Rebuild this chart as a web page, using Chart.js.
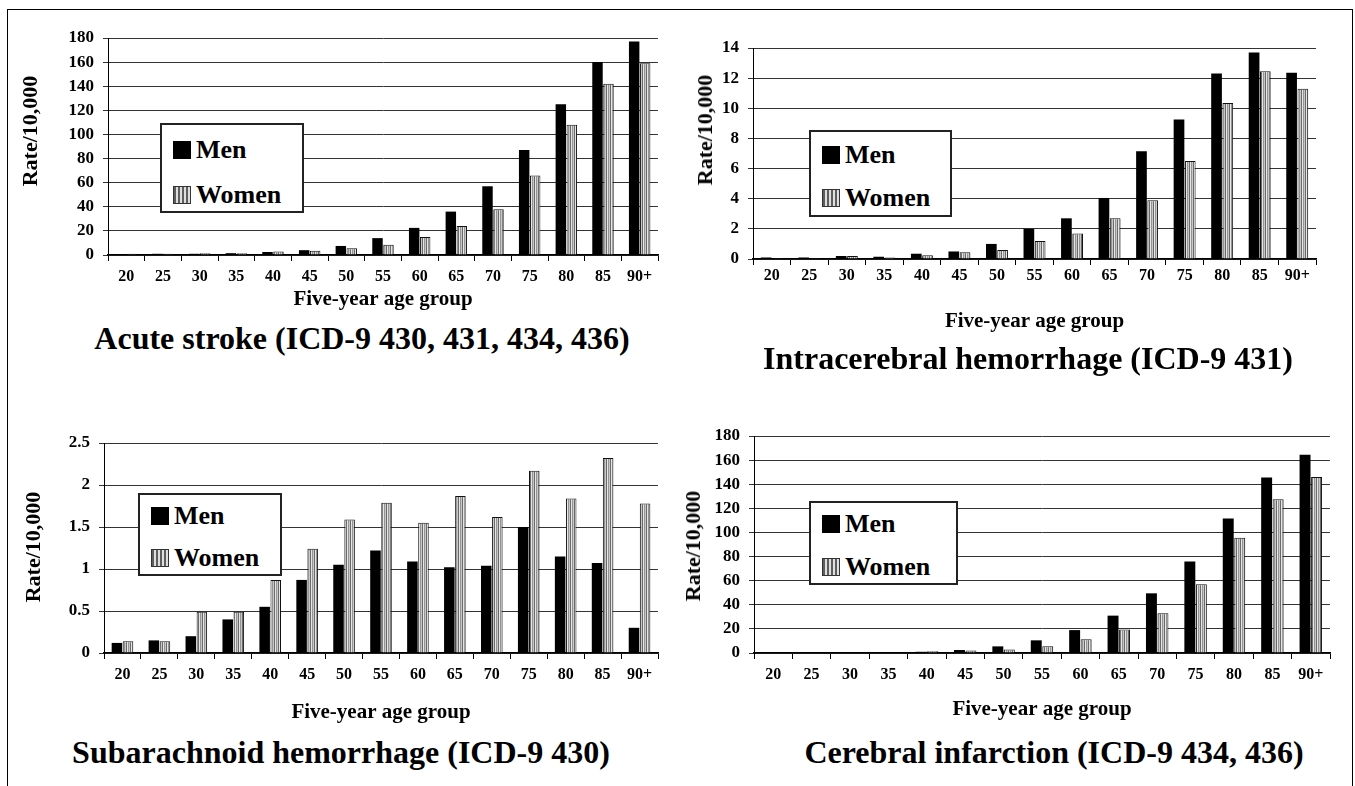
<!DOCTYPE html>
<html>
<head>
<meta charset="utf-8">
<script src="https://cdn.jsdelivr.net/npm/chart.js@4.4.1/dist/chart.umd.min.js"></script>
<style>
  body { margin: 0; background: #fff; font-family: "Liberation Serif", "Times New Roman", serif; }
  #page { position: relative; width: 1355px; height: 786px; overflow: hidden; }
  #frame { position: absolute; left: 7px; top: 9px; width: 1344px; height: 820px; border: 1.5px solid #000; border-bottom: none; }
  canvas { position: absolute; }
  .title { position: absolute; font-weight: bold; font-size: 32px; white-space: nowrap; transform: translate(-50%, -50%); }
  .ytitle { position: absolute; font-weight: bold; font-size: 22px; white-space: nowrap; transform: translate(-50%, -50%) rotate(-90deg); }
  .legend { position: absolute; background: #fff; border: 2px solid #222; box-sizing: border-box; }
  .legend .row { position: absolute; left: 11px; font-weight: bold; font-size: 26px; line-height: 28px; display: flex; align-items: center; transform: translateY(-50%); }
  .swatch { width: 18px; height: 18px; margin-right: 5px; box-sizing: border-box; }
  .sw-men { background: #000; }
  .sw-women { border: 1px solid #333; background: repeating-linear-gradient(90deg, #5e5e5e 0 2px, #dedede 2px 4px); }
</style>
</head>
<body>
<div id="page">
  <div id="frame"></div>
  <canvas id="c1"></canvas>
  <canvas id="c2"></canvas>
  <canvas id="c3"></canvas>
  <canvas id="c4"></canvas>
</div>
<script>
// age groups (x categories)
const ageGroups = ["20", "25", "30", "35", "40", "45", "50", "55", "60", "65", "70", "75", "80", "85", "90+"];
const seriesNames = ["Men", "Women"];

// Acute stroke (ICD-9 430, 431, 434, 436)
const strokeMen   = [0.5, 1, 1, 1.5, 2.5, 4, 7.5, 14, 22.5, 36, 57, 87, 125, 160, 177];
const strokeWomen = [1, 1, 1.5, 1.5, 3, 3.5, 5.5, 8.5, 15, 24, 38, 66, 108, 142, 159];

// Intracerebral hemorrhage (ICD-9 431)
const ichMen   = [0.1, 0.1, 0.2, 0.15, 0.35, 0.5, 1.0, 2.0, 2.7, 4.05, 7.15, 9.25, 12.3, 13.7, 12.35];
const ichWomen = [0.05, 0.05, 0.2, 0.1, 0.25, 0.45, 0.6, 1.2, 1.7, 2.7, 3.9, 6.5, 10.35, 12.45, 11.3];

// Subarachnoid hemorrhage (ICD-9 430)
const sahMen   = [0.12, 0.15, 0.2, 0.4, 0.55, 0.87, 1.05, 1.22, 1.09, 1.02, 1.04, 1.5, 1.15, 1.07, 0.3];
const sahWomen = [0.14, 0.14, 0.49, 0.49, 0.87, 1.24, 1.59, 1.79, 1.55, 1.87, 1.62, 2.17, 1.84, 2.32, 1.78];

// Cerebral infarction (ICD-9 434, 436)
const ciMen   = [0, 0, 0.5, 0.5, 1, 2.5, 5.5, 10.5, 19, 31, 49.5, 76, 111.5, 145.5, 164.5];
const ciWomen = [0, 0, 0.3, 0.5, 1.5, 2, 3, 5.5, 11.5, 19.5, 33, 57, 95.5, 127.5, 146];

// y axis ranges
const yMax  = [180, 14, 2.5, 180];
const yStep = [20, 2, 0.5, 20];

const titles = [
  "Acute stroke (ICD-9 430, 431, 434, 436)",
  "Intracerebral hemorrhage (ICD-9 431)",
  "Subarachnoid hemorrhage (ICD-9 430)",
  "Cerebral infarction (ICD-9 434, 436)"
];

// page layout (pixels)
const panels = [
  { id: "c1", box: [10, 15, 660, 300],  area: [108, 38, 658, 255],  labelY: 277, xTitleY: 300,
    yTitle: [30, 131],  title: [362, 338],  legend: [160, 123, 144, 90, 25, 70] },
  { id: "c2", box: [685, 15, 660, 330], area: [753, 48, 1316, 259], labelY: 276, xTitleY: 322,
    yTitle: [705, 130], title: [1028, 358], legend: [809, 130, 143, 87, 23, 66] },
  { id: "c3", box: [10, 415, 660, 315], area: [104, 443, 658, 653], labelY: 675, xTitleY: 713,
    yTitle: [33, 547],  title: [341, 752],  legend: [138, 493, 144, 83, 21, 63] },
  { id: "c4", box: [680, 415, 665, 315], area: [754, 436, 1330, 653], labelY: 675, xTitleY: 710,
    yTitle: [693, 546], title: [1054, 752], legend: [809, 501, 149, 84, 21, 64] }
];
const seriesData = [[strokeMen, strokeWomen], [ichMen, ichWomen], [sahMen, sahWomen], [ciMen, ciWomen]];

Chart.defaults.font.family = '"Liberation Serif", "Times New Roman", serif';
Chart.defaults.font.weight = 'bold';
Chart.defaults.color = '#000';

// vertical stripe fill for the women bars
function stripes(ctx) {
  const c = document.createElement('canvas');
  c.width = 4; c.height = 4;
  const g = c.getContext('2d');
  ['#6a6a6a', '#e6e6e6', '#949494', '#c8c8c8'].forEach((col, i) => {
    g.fillStyle = col;
    g.fillRect(i, 0, 1, 4);
  });
  return ctx.createPattern(c, 'repeat');
}

const page = document.getElementById('page');

panels.forEach((p, i) => {
  const [bx, by, bw, bh] = p.box;
  const cv = document.getElementById(p.id);
  cv.style.left = bx + 'px';
  cv.style.top = by + 'px';
  cv.width = bw; cv.height = bh;
  cv.style.width = bw + 'px'; cv.style.height = bh + 'px';
  const ctx = cv.getContext('2d');

  const padTop = p.area[1] - by;
  const padRight = bx + bw - p.area[2];
  const yWidth = p.area[0] - bx;
  const xHeight = by + bh - p.area[3];
  const tickFont = 16, xTitleFont = 21;
  const labelPad = Math.max(0, p.labelY - p.area[3] - 6 - tickFont * 1.2 / 2);
  const xTitlePad = Math.max(0, by + bh - p.xTitleY - xTitleFont * 1.2 / 2);

  new Chart(ctx, {
    type: 'bar',
    data: {
      labels: ageGroups,
      datasets: [
        { label: seriesNames[0], data: seriesData[i][0], backgroundColor: '#000', borderWidth: 0 },
        { label: seriesNames[1], data: seriesData[i][1], backgroundColor: stripes(ctx), borderColor: '#111', borderWidth: 1 }
      ]
    },
    options: {
      responsive: false,
      animation: false,
      layout: { padding: { top: padTop, right: padRight, left: 0, bottom: 0 } },
      datasets: { bar: { categoryPercentage: 0.6, barPercentage: 0.95 } },
      plugins: { legend: { display: false }, tooltip: { enabled: false } },
      scales: {
        x: {
          grid: { drawOnChartArea: false, tickLength: 6, color: '#000', offset: true },
          border: { color: '#000', width: 1.5 },
          ticks: { font: { size: tickFont }, padding: labelPad, maxRotation: 0, autoSkip: false },
          title: { display: true, text: 'Five-year age group', font: { size: xTitleFont }, padding: { top: 0, bottom: xTitlePad } },
          afterFit(sc) { sc.height = xHeight; }
        },
        y: {
          min: 0, max: yMax[i],
          grid: { color: '#333', tickLength: 5 },
          border: { color: '#000', width: 1 },
          ticks: { stepSize: yStep[i], font: { size: 17 }, padding: 9, callback: v => String(v) },
          afterFit(sc) { sc.width = yWidth; }
        }
      }
    }
  });

  // y axis title
  const yt = document.createElement('div');
  yt.className = 'ytitle';
  yt.textContent = 'Rate/10,000';
  yt.style.left = p.yTitle[0] + 'px';
  yt.style.top = p.yTitle[1] + 'px';
  page.appendChild(yt);

  // panel title
  const t = document.createElement('div');
  t.className = 'title';
  t.textContent = titles[i];
  t.style.left = p.title[0] + 'px';
  t.style.top = p.title[1] + 'px';
  page.appendChild(t);

  // legend box
  const [lx, ly, lw, lh, r1, r2] = p.legend;
  const lg = document.createElement('div');
  lg.className = 'legend';
  lg.style.left = lx + 'px'; lg.style.top = ly + 'px';
  lg.style.width = lw + 'px'; lg.style.height = lh + 'px';
  lg.innerHTML =
    '<div class="row" style="top:' + r1 + 'px"><div class="swatch sw-men"></div>' + seriesNames[0] + '</div>' +
    '<div class="row" style="top:' + r2 + 'px"><div class="swatch sw-women"></div>' + seriesNames[1] + '</div>';
  page.appendChild(lg);
});
</script>
</body>
</html>
